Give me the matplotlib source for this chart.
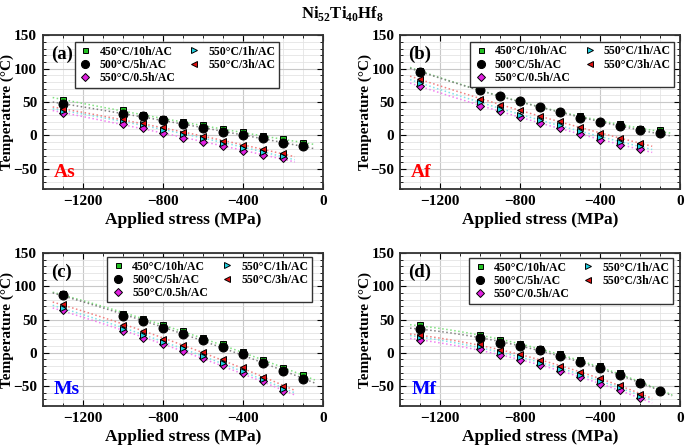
import numpy as np
import matplotlib
matplotlib.use("Agg")
import matplotlib.pyplot as plt
from matplotlib.ticker import MultipleLocator

plt.rcParams['font.family'] = ['Liberation Serif', 'DejaVu Serif']
plt.rcParams['font.weight'] = 'bold'
plt.rcParams['mathtext.fontset'] = 'custom'
plt.rcParams['mathtext.rm'] = 'Liberation Serif:bold'
plt.rcParams['mathtext.bf'] = 'Liberation Serif:bold'

# applied stress (MPa)
stress_long = [-1300, -1000, -900, -800, -700, -600, -500, -400, -300, -200, -100]
stress_short = [-1300, -1000, -900, -800, -700, -600, -500, -400, -300, -200]

labels = ["450°C/10h/AC", "500°C/5h/AC", "550°C/0.5h/AC", "550°C/1h/AC", "550°C/3h/AC"]

# As
As_450_10h = [53.5, 37.5, 31, 25, 20, 15, 9, 5, -1, -5.5, -10.5]
As_500_5h = [47.5, 31.5, 29, 23.5, 17.5, 11, 5.5, 0, -4, -11.5, -15.5]
As_550_05h = [33.5, 17.5, 11, 3.5, -3.5, -9, -16, -23, -29.5, -34]
As_550_1h = [36.5, 22.5, 16.5, 8.5, 2, -4, -11, -18, -25, -30.5]
As_550_3h = [39, 25, 18.5, 12, 4.5, -1.5, -8.5, -14.5, -20.5, -26.5]

# Af
Af_450_10h = [96, 67.5, 59.5, 51.5, 43, 35.5, 28.5, 20.5, 16.5, 10, 7.5]
Af_500_5h = [95, 67.5, 59, 51, 42.5, 35, 26.5, 20, 13.5, 7.5, 3.5]
Af_550_05h = [73.5, 44.5, 36, 27.5, 19, 11, 1.5, -6.5, -13.5, -20.5]
Af_550_1h = [78.5, 50, 40, 31, 23.5, 16, 6, -2.5, -9.5, -16]
Af_550_3h = [84, 55, 46, 37.5, 29, 21, 12, 3.5, -4, -11.5]

# Ms
Ms_450_10h = [88, 59, 50.5, 41.5, 32.5, 22, 12.5, 1.5, -11.5, -22.5, -34]
Ms_500_5h = [87, 55.5, 48.5, 38, 28.5, 18.5, 8.5, -2.5, -15.5, -27, -39]
Ms_550_05h = [64, 32.5, 22.5, 12.5, 2.5, -8, -18.5, -31, -43, -58]
Ms_550_1h = [68, 36, 27, 16, 7, -5, -15, -27, -40, -54.5]
Ms_550_3h = [73, 41.5, 33, 21, 11.5, 1, -10, -22, -36, -50.5]

# Mf
Mf_450_10h = [41.5, 26, 18.5, 12.5, 6, -2.5, -11.5, -20, -31, -44.5, -57]
Mf_500_5h = [36.5, 22.5, 14.5, 9.5, 3.5, -4.5, -13.5, -22.5, -33, -46, -58]
Mf_550_05h = [18.5, 6, -3, -10.5, -19, -28, -37, -47, -55.5, -68.5]
Mf_550_1h = [23, 9.5, 1, -6.5, -15.5, -24, -33, -42, -52, -64.5]
Mf_550_3h = [26, 12.5, 4, -2.5, -11.5, -20, -29, -38, -49, -62]

panels = [
    ("(a)", "As", "red", [As_450_10h, As_500_5h, As_550_05h, As_550_1h, As_550_3h]),
    ("(b)", "Af", "red", [Af_450_10h, Af_500_5h, Af_550_05h, Af_550_1h, Af_550_3h]),
    ("(c)", "Ms", "blue", [Ms_450_10h, Ms_500_5h, Ms_550_05h, Ms_550_1h, Ms_550_3h]),
    ("(d)", "Mf", "blue", [Mf_450_10h, Mf_500_5h, Mf_550_05h, Mf_550_1h, Mf_550_3h]),
]

markers = ['s', 'o', 'D', '>', '<']
face = ['#22c022', 'black', '#e020e0', '#20d0e0', '#e01010']
msize = [4, 6.5, 4, 5, 5]
fitcol = ['#80e080', '#808080', '#f080f0', '#80e0e8', '#f08080']

ax_pos = [[0.0623, 0.5762, 0.409, 0.345],
          [0.584, 0.5762, 0.409, 0.345],
          [0.0623, 0.0897, 0.409, 0.343],
          [0.584, 0.0897, 0.409, 0.343]]
leg_anchor = [(0.843, 0.955), (0.979, 0.956), (0.96, 0.974), (0.975, 0.967)]
ylab_x = [-0.102, -0.1, -0.102, -0.1]

fig = plt.figure(figsize=(6.85, 4.46), dpi=100)

for i, (tag, name, ncol, series) in enumerate(panels):
    ax = fig.add_axes(ax_pos[i])
    handles = []
    for j, vals in enumerate(series):
        x = np.array(stress_long if len(vals) == 11 else stress_short, dtype=float)
        y = np.array(vals, dtype=float)
        # quadratic trend line, as in the original
        p = np.polyfit(x, y, 2)
        xf = np.linspace(-1350, x[-1] + 60, 100)
        ax.plot(xf, np.polyval(p, xf), ':', color=fitcol[j], lw=1.1, zorder=2)
        ax.errorbar(x, y, yerr=2, fmt='none', ecolor='black', elinewidth=0.7,
                    capsize=0, zorder=3 + j)
        h, = ax.plot(x, y, markers[j], mfc=face[j], mec='black', mew=0.7,
                     ms=msize[j], zorder=3 + j, label=labels[j])
        handles.append(h)

    ax.set_xlim(-1400, 0)
    ax.set_ylim(-80, 150)
    ax.xaxis.set_major_locator(MultipleLocator(400))
    ax.xaxis.set_minor_locator(MultipleLocator(100))
    ax.yaxis.set_major_locator(MultipleLocator(50))
    ax.yaxis.set_minor_locator(MultipleLocator(10))
    ax.grid(which='major', color='#c8c8c8', lw=0.8)
    ax.grid(which='minor', color='#e4e4e4', lw=0.6)
    ax.set_axisbelow(True)
    ax.tick_params(which='both', direction='in', top=True, right=True, labelsize=11)
    ax.tick_params(which='major', length=4, pad=4)
    ax.tick_params(which='minor', length=2)
    for s in ax.spines.values():
        s.set_linewidth(1.3)
        s.set_color('#333333')
    ax.set_xlabel("Applied stress (MPa)", fontsize=12.5, fontweight='bold', labelpad=3)
    ax.set_ylabel("Temperature (°C)", fontsize=11, fontweight='bold')
    ax.yaxis.set_label_coords(ylab_x[i], 0.5)

    ax.text(0.03, 0.93, tag, transform=ax.transAxes, fontsize=13.5,
            fontweight='bold', va='top')
    ax.text(0.04, 0.05, name, transform=ax.transAxes, fontsize=14,
            fontweight='bold', color=ncol, va='bottom')

    leg = ax.legend(handles=handles, ncol=2, loc='upper right',
                    bbox_to_anchor=leg_anchor[i], fontsize=8.5, frameon=True,
                    fancybox=False, edgecolor='#333333', framealpha=1,
                    borderpad=0.3, labelspacing=0.1, handletextpad=0.6,
                    columnspacing=1.0, handlelength=1.2, markerscale=0.9,
                    borderaxespad=0)
    leg.get_frame().set_linewidth(1.0)

fig.text(0.5, 0.97, r"Ni$_{52}$Ti$_{40}$Hf$_{8}$", ha='center', va='center',
         fontsize=12, fontweight='bold')

fig.savefig("out.png", dpi=100)
